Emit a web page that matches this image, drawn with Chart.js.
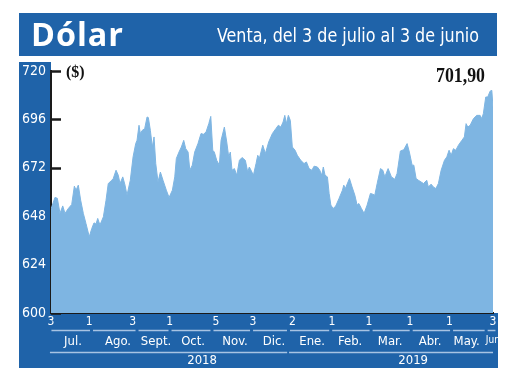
<!DOCTYPE html>
<html>
<head>
<meta charset="utf-8">
<script src="https://cdn.jsdelivr.net/npm/chart.js@4/dist/chart.umd.min.js"></script>
<style>
  html, body { margin: 0; padding: 0; background: #ffffff; }
  #wrap { width: 520px; height: 390px; position: relative; }
</style>
</head>
<body>
<div id="wrap"><canvas id="c" width="520" height="390"></canvas></div>
<script>
// ---- Data ----
// x = days since 3 July 2018, y = peso per dollar (venta)
const days = [0,3.0,4.8,6.8,8.9,10.6,13.1,15.7,17.7,19.0,
  20.7,22.5,24.5,26.5,29.0,30.9,32.6,34.1,35.4,37.1,
  39.7,41.7,43.4,46.0,47.2,49.3,51.0,52.3,54.4,56.1,
  57.6,60.1,62.2,64.2,65.2,66.7,67.7,69.2,71.0,72.8,
  73.8,75.3,76.8,78.1,79.4,81.1,82.9,84.9,87.4,89.5,
  92.0,93.8,95.0,97.0,98.8,100.6,102.1,103.9,105.2,107.1,
  108.9,111.4,113.7,115.5,117.5,119.6,121.1,122.6,123.8,125.6,
  127.6,128.9,131.4,133.2,134.7,135.9,137.2,139.0,140.8,142.8,
  144.8,147.3,149.1,150.3,151.6,153.4,155.4,156.7,157.9,160.5,
  162.5,165.0,167.8,170.4,172.3,174.2,175.9,177.2,178.4,179.9,
  181.4,182.9,185.0,186.7,189.3,191.8,193.6,195.6,197.7,199.4,
  201.9,203.7,205.2,206.4,207.7,209.5,210.8,212.1,213.8,215.8,
  218.3,220.9,221.9,223.1,226.2,228.2,230.3,232.0,233.3,235.3,
  237.3,239.6,242.1,243.9,245.4,247.2,249.7,251.5,253.0,255.5,
  258.0,260.6,262.3,264.8,267.4,269.9,271.6,273.7,275.0,276.7,
  278.5,282.3,284.8,286.0,288.1,289.8,291.7,293.6,295.7,298.2,
  300.0,301.7,303.3,305.0,306.8,308.8,311.4,313.3,314.6,315.9,
  317.7,320.2,322.7,325.2,326.5,327.7,329.5,331.0,332.8,334.1,
  335];
const venta = [651.5,657.3,656.9,649.4,653.1,649.4,651.8,653.8,662.9,660.9,
  663.4,655.9,649.4,644.4,637.8,641.9,644.7,644.1,646.9,643.6,
  647.7,655.9,664.2,665.8,666.7,670.8,668.3,664.2,667.5,663.4,
  658.4,665.8,677.4,684.0,685.6,693.1,689.0,690.6,691.4,697.2,
  696.9,690.6,682.3,687.3,674.1,665.0,669.9,665.8,660.9,657.3,
  660.9,667.5,676.6,679.8,682.3,685.6,681.5,679.8,670.8,673.3,
  679.8,684.0,689.0,688.6,689.7,693.9,697.5,680.7,679.8,675.7,
  673.3,685.6,692.2,684.8,677.4,679.8,670.8,671.6,668.3,675.7,
  677.1,675.7,669.9,672.4,670.8,668.3,674.1,678.2,676.6,683.2,
  679.1,684.8,689.0,691.4,693.1,692.2,694.7,698.0,693.9,698.0,
  695.5,682.3,680.7,678.2,675.7,674.1,674.9,671.6,670.8,672.8,
  672.4,670.8,668.3,672.4,668.3,667.5,659.3,653.5,651.8,653.0,
  656.8,660.9,663.4,661.7,666.7,662.5,658.4,653.5,654.3,651.8,
  649.4,653.5,659.3,658.9,658.4,664.2,671.6,670.8,667.5,671.6,
  667.5,666.3,669.2,680.3,681.0,684.0,679.8,673.3,673.3,666.7,
  665.8,664.2,665.8,662.5,663.9,662.5,661.7,664.2,670.8,675.7,
  677.4,680.7,678.2,681.5,680.7,683.2,685.6,687.3,693.9,692.2,
  693.1,696.4,698.0,698.0,696.4,698.9,707.1,707.1,710.0,710.4,
  701.9];

const yTicks = [600, 624, 648, 672, 696, 720];
const dayTickPos = [0, 29, 62, 90, 125, 153, 183, 213, 241, 272, 302, 335];
const dayTickLabels = ['3','1','3','1','5','3','2','1','1','1','1','3'];
const monthNames = ['Jul.','Ago.','Sept.','Oct.','Nov.','Dic.','Ene.','Feb.','Mar.','Abr.','May.','Jun.'];
const monthLabelPos = [16.7, 50.8, 79.6, 107.7, 139.5, 169, 197.9, 226.7, 257, 287.3, 315, 336];
const monthBounds = [-0.8, 30.7, 65.2, 90.2, 122, 152, 180, 212, 242.6, 273, 303.6, 329.8, 338];
const yearNames = ['2018', '2019'];
const yearLabelPos = [114.5, 274.5];
const yearBounds = [[-0.8, 179], [180.4, 335]];

const titleText = 'Dólar';
const subtitleText = 'Venta, del 3 de julio al 3 de junio';
const unitText = '($)';
const lastValueText = '701,90';

// ---- Style ----
const BLUE = '#1f63a9';
const FILL = '#7eb5e2';
const SEP = '#a7c3e3';
const AXIS = '#1a1a1a';
const NARROW = "'Liberation Sans Narrow', 'DejaVu Sans Condensed', 'Liberation Sans', sans-serif";

const framePlugin = {
  id: 'frame',
  beforeDraw(chart) {
    const ctx = chart.ctx;
    ctx.save();
    ctx.fillStyle = BLUE;
    ctx.fillRect(19, 13, 478, 43);          // title banner
    ctx.fillRect(19, 62, 32, 306);          // left panel
    ctx.fillRect(19, 313, 479, 55);         // bottom band
    ctx.restore();
  },
  beforeDatasetsDraw(chart) {
    const ctx = chart.ctx;
    const y = chart.scales.y;
    const left = chart.chartArea.left;
    ctx.save();
    ctx.strokeStyle = AXIS;
    ctx.lineWidth = 2.5;
    yTicks.forEach(v => {
      const py = Math.round(y.getPixelForValue(v)) + 0.5;
      ctx.beginPath();
      ctx.moveTo(left, py);
      ctx.lineTo(left + 10, py);
      ctx.stroke();
    });
    ctx.restore();
  },
  afterDraw(chart) {
    const ctx = chart.ctx;
    const x = chart.scales.x;
    ctx.save();
    // separators under day numbers (months)
    ctx.strokeStyle = SEP;
    ctx.lineWidth = 1.5;
    for (let i = 0; i < monthBounds.length - 1; i++) {
      const a = x.getPixelForValue(monthBounds[i]) + 1.5;
      const b = x.getPixelForValue(monthBounds[i + 1]) - 1.5;
      ctx.beginPath(); ctx.moveTo(a, 330.5); ctx.lineTo(b, 330.5); ctx.stroke();
    }
    // separators under months (years)
    yearBounds.forEach(([s, e]) => {
      const a = x.getPixelForValue(s);
      const b = x.getPixelForValue(e);
      ctx.beginPath(); ctx.moveTo(a, 352.5); ctx.lineTo(b, 352.5); ctx.stroke();
    });
    // titles
    ctx.fillStyle = '#ffffff';
    ctx.textBaseline = 'alphabetic';
    ctx.textAlign = 'left';
    ctx.font = "bold 33px 'Open Sans', 'Lato', sans-serif";
    try { ctx.letterSpacing = '1px'; } catch (e) {}
    ctx.fillText(titleText, 31, 46, 93);
    try { ctx.letterSpacing = '0px'; } catch (e) {}
    ctx.textAlign = 'right';
    ctx.font = "20px " + NARROW;
    ctx.fillText(subtitleText, 479, 42, 262);
    // unit and last value
    ctx.fillStyle = '#111111';
    ctx.textAlign = 'left';
    ctx.font = "bold 16px 'Liberation Serif', serif";
    ctx.fillText(unitText, 66, 77);
    ctx.textAlign = 'right';
    ctx.font = "bold 20px 'Liberation Serif', serif";
    ctx.fillText(lastValueText, 485, 82, 49);
    ctx.restore();
  }
};

new Chart(document.getElementById('c'), {
  type: 'line',
  data: {
    datasets: [{
      data: days.map((d, i) => ({ x: d, y: venta[i] })),
      fill: 'start',
      backgroundColor: FILL,
      borderColor: FILL,
      borderWidth: 1,
      pointRadius: 0,
      tension: 0
    }]
  },
  options: {
    responsive: false,
    animation: false,
    devicePixelRatio: 1,
    layout: { padding: { left: 0, right: 27, top: 71, bottom: 22 } },
    plugins: { legend: { display: false }, tooltip: { enabled: false }, title: { display: false } },
    scales: {
      y: {
        min: 600, max: 720,
        afterBuildTicks: a => { a.ticks = yTicks.map(v => ({ value: v })); },
        ticks: { color: '#ffffff', font: { family: NARROW, size: 14 }, padding: 5 },
        grid: { display: false, drawTicks: false },
        border: { display: true, color: AXIS, width: 2 },
        afterFit: s => { s.width = 51; }
      },
      x: {
        type: 'linear', position: 'bottom', weight: 1,
        min: 0, max: 335,
        afterBuildTicks: a => { a.ticks = dayTickPos.map(v => ({ value: v })); },
        ticks: {
          color: '#ffffff', font: { family: NARROW, size: 12 }, padding: 2,
          autoSkip: false, maxRotation: 0, minRotation: 0,
          callback: (v, i) => dayTickLabels[i]
        },
        grid: { display: false, drawTicks: false },
        border: { display: true, color: AXIS, width: 2 },
        afterFit: s => { s.height = 17; }
      },
      x2: {
        type: 'linear', position: 'bottom', weight: 2,
        min: 0, max: 335,
        afterBuildTicks: a => { a.ticks = monthLabelPos.map(v => ({ value: v })); },
        ticks: {
          color: '#ffffff',
          font: c => ({ family: NARROW, size: c.index === monthNames.length - 1 ? 10 : 13 }),
          padding: 4,
          autoSkip: false, maxRotation: 0, minRotation: 0,
          callback: (v, i) => monthNames[i]
        },
        grid: { display: false, drawTicks: false },
        border: { display: false },
        afterFit: s => { s.height = 22; }
      },
      x3: {
        type: 'linear', position: 'bottom', weight: 3,
        min: 0, max: 335,
        afterBuildTicks: a => { a.ticks = yearLabelPos.map(v => ({ value: v })); },
        ticks: {
          color: '#ffffff', font: { family: NARROW, size: 13 }, padding: 1,
          autoSkip: false, maxRotation: 0, minRotation: 0,
          callback: (v, i) => yearNames[i]
        },
        grid: { display: false, drawTicks: false },
        border: { display: false },
        afterFit: s => { s.height = 16; }
      }
    }
  },
  plugins: [framePlugin]
});
</script>
</body>
</html>
